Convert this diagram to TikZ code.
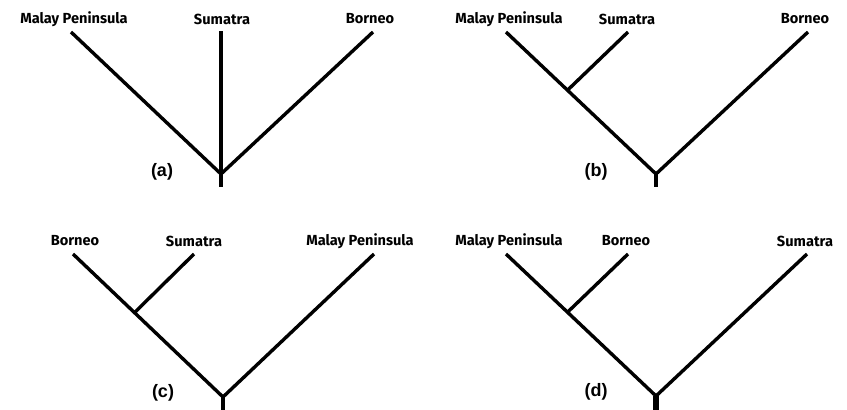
\documentclass[tikz,border=0pt]{standalone}
\usepackage{fontspec}
\setmainfont{Fira Sans}
\newfontfamily\panelfont{Liberation Sans}
\usetikzlibrary{calc}

\begin{document}
\begin{tikzpicture}[x=1pt,y=-1pt,
  taxon/.style={font=\bfseries\fontsize{14.6}{16}\selectfont},
  panel/.style={font=\panelfont\bfseries\fontsize{18}{20}\selectfont},
  branch/.style={line width=3.4pt}]
\useasboundingbox (0,0) rectangle (847,410);

% tree (a)
\node[taxon] (aMal) at (74,19) {Malay Peninsula};
\node[taxon] (aSum) at (222,19) {Sumatra};
\node[taxon] (aBor) at (370,19) {Borneo};
\node[panel] (aLab) at (162,172) {(a)};
\coordinate (aMalTip) at (71,32);
\coordinate (aSumTip) at (221,31);
\coordinate (aBorTip) at (373,32);
\coordinate (aRoot) at (221,174);
\coordinate (aBase) at (221,187);
\draw[branch] (aMalTip) -- (aRoot);
\draw[branch] (aBorTip) -- (aRoot);
\draw[branch] (aSumTip) -- (aBase);

% tree (b)
\node[taxon] (bMal) at (509,19) {Malay Peninsula};
\node[taxon] (bSum) at (627,19) {Sumatra};
\node[taxon] (bBor) at (805,19) {Borneo};
\node[panel] (bLab) at (596,172) {(b)};
\coordinate (bMalTip) at (506,32);
\coordinate (bSumTip) at (628,32);
\coordinate (bBorTip) at (808,32);
\coordinate (bRoot) at (656,174);
\coordinate (bBase) at (656,187);
\coordinate (bJoin) at ($(bMalTip)!0.41!(bRoot)$);
\draw[branch] (bMalTip) -- (bRoot);
\draw[branch] (bBorTip) -- (bRoot);
\draw[branch] (bSumTip) -- (bJoin);
\draw[branch] (bRoot) -- (bBase);

% tree (c)
\node[taxon] (cBor) at (75,241) {Borneo};
\node[taxon] (cSum) at (194,241) {Sumatra};
\node[taxon] (cMal) at (360,241) {Malay Peninsula};
\node[panel] (cLab) at (163,393) {(c)};
\coordinate (cBorTip) at (73,254);
\coordinate (cSumTip) at (194,254);
\coordinate (cMalTip) at (374,254);
\coordinate (cRoot) at (223,397);
\coordinate (cBase) at (223,410);
\coordinate (cJoin) at ($(cBorTip)!0.41!(cRoot)$);
\draw[branch] (cBorTip) -- (cRoot);
\draw[branch] (cMalTip) -- (cRoot);
\draw[branch] (cSumTip) -- (cJoin);
\draw[branch] (cRoot) -- (cBase);

% tree (d)
\node[taxon] (dMal) at (509,241) {Malay Peninsula};
\node[taxon] (dBor) at (626,241) {Borneo};
\node[taxon] (dSum) at (805,241) {Sumatra};
\node[panel] (dLab) at (596,392) {(d)};
\coordinate (dMalTip) at (506,254);
\coordinate (dBorTip) at (628,254);
\coordinate (dSumTip) at (807,254);
\coordinate (dRoot) at (656,396);
\coordinate (dBase) at (656,410);
\coordinate (dJoin) at ($(dMalTip)!0.41!(dRoot)$);
\draw[branch] (dMalTip) -- (dRoot);
\draw[branch] (dSumTip) -- (dRoot);
\draw[branch] (dBorTip) -- (dJoin);
\draw[branch,line width=5.5pt] (dRoot) -- (dBase);
\end{tikzpicture}
\end{document}
